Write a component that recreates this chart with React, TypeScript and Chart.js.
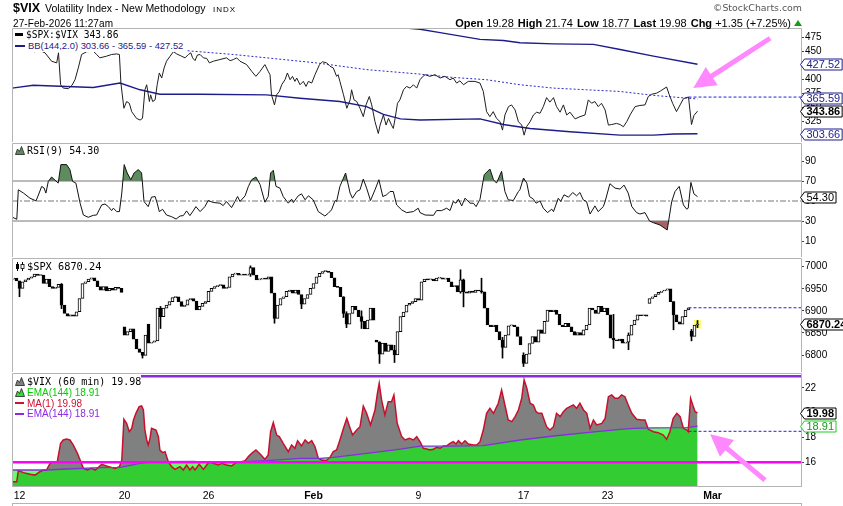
import React, { useEffect, useRef } from 'react';
import { Chart, registerables } from 'chart.js';

Chart.register(...registerables);

// ---------------- data (x = hourly bar index, 7 bars per session) ----------------
type Pt = [number, number];

const xTickIdx = [3, 38, 66, 101, 136, 171, 199, 234];
const xTickLabels = ['12', '20', '26', 'Feb', '9', '17', '23', 'Mar'];

const ratioPts: Pt[] = [
  [0.5, 455], [3, 456], [6, 452], [8, 450], [9.8, 452], [11.5, 448], [13.7, 433], [15.4, 430], [16, 448], [16.7, 391],
  [17.6, 385], [19.3, 384], [20.5, 390], [21.5, 400], [22.6, 421], [23.7, 445], [25.4, 450], [27.6, 451], [28.7, 445], [29.8, 439],
  [32, 442], [33.7, 445], [35.4, 446], [36.3, 445], [36.8, 394], [37.8, 349], [38.7, 361], [39.6, 358], [40.4, 343], [42, 331],
  [43.2, 328], [44, 331], [44.8, 382], [45.4, 391], [46.3, 361], [46.7, 373], [47.4, 361], [48.2, 364], [48.9, 391], [49.6, 412],
  [50.4, 403], [51.2, 421], [52, 433], [53.2, 442], [54.3, 450], [55.4, 446], [57, 442], [58.2, 439], [59.3, 445], [60.1, 448],
  [60.7, 439], [61.5, 434], [62.3, 444], [63.2, 445], [64.3, 439], [65.4, 438], [66.3, 430], [67.6, 433], [69.8, 436], [72, 439],
  [73.2, 434], [74.3, 436], [75.4, 439], [76.5, 433], [78.7, 427], [80.4, 415], [81.8, 406], [83.2, 415], [84.8, 427], [85.9, 415],
  [86.5, 409], [87, 373], [88, 355], [88.7, 373], [89.6, 379], [90.4, 391], [91.5, 400], [92.3, 412], [93.2, 400], [94, 406],
  [94.8, 397], [95.4, 403], [96.5, 391], [97.6, 397], [98.5, 388], [99.3, 397], [100.4, 394], [101.5, 409], [103, 427], [104, 432],
  [105.4, 430], [106.5, 424], [107.6, 421], [108.7, 406], [109.2, 409], [109.8, 397], [111, 373], [112.1, 349], [113.2, 364], [113.7, 382],
  [114.5, 364], [115.4, 361], [116.5, 349], [117.6, 334], [118.5, 355], [119.6, 370], [120.4, 355], [121.5, 325], [122.6, 304], [123.2, 319],
  [124.3, 337], [125.2, 319], [126, 331], [127, 319], [127.6, 313], [128.2, 331], [129, 358], [129.8, 364], [131, 382], [132, 388],
  [133.2, 385], [134.3, 391], [135.4, 385], [136.5, 400], [137.3, 405], [138.2, 409], [139.8, 406], [141.5, 409], [143.2, 403], [144.8, 406],
  [146.5, 400], [147.6, 403], [148.7, 394], [149.8, 398], [151, 391], [152.6, 397], [154.8, 397], [156.5, 394], [157.6, 379], [158.7, 343],
  [159.8, 334], [160.9, 343], [162, 331], [163.2, 325], [164, 310], [164.8, 337], [166, 352], [167, 355], [168.2, 346], [169.3, 325],
  [170.4, 319], [171.2, 301], [172, 316], [173.2, 325], [174.3, 337], [175.4, 342], [176.5, 340], [177.6, 352], [178.7, 368], [179.8, 360],
  [181, 368], [182, 352], [183.2, 342], [184.3, 355], [185.4, 337], [186.5, 342], [188.2, 330], [189.8, 334], [191.5, 337], [192.6, 364],
  [193.7, 358], [194.8, 361], [195.9, 352], [197, 358], [198.2, 346], [199.3, 319], [200.4, 320], [202, 322], [203.2, 320], [204.3, 316],
  [205.4, 325], [206.5, 337], [208.2, 352], [209.8, 354], [211.5, 355], [212.6, 370], [213.7, 374], [215.4, 376], [216.7, 380], [218.7, 387],
  [219.6, 373], [220.7, 358], [222, 343], [223.2, 355], [224.3, 366], [225.2, 368], [226, 369], [227, 320], [227.8, 336], [229, 343.86],
];
const bbUpperPts: Pt[] = [
  [0.5, 560], [40, 545], [80, 520], [110, 505], [130, 493], [136.5, 490], [143.2, 484], [156.5, 472], [164.3, 470], [169.8, 466],
  [181, 464], [194.3, 463], [203.2, 454], [214.3, 442], [229, 427.52],
];
const bbMidPts: Pt[] = [
  [0.5, 472], [30, 462], [58.2, 452], [74.3, 445], [85.4, 439], [102, 430], [118.7, 418], [136.5, 410], [147.6, 404], [158.7, 400],
  [169.8, 391], [181, 385], [192, 382], [203.2, 379], [214.3, 372], [229, 365.59],
];
const bbLowerPts: Pt[] = [
  [0.5, 385], [7.6, 390], [18.7, 388], [27.6, 386], [36.5, 394], [43.2, 382], [49.8, 374], [63.2, 374], [85.4, 373], [96.5, 367],
  [109.8, 361], [118.7, 352], [124.3, 338], [130, 330], [136.5, 328], [156.5, 330], [164.3, 320], [173.2, 313], [186.5, 307], [203.2, 301],
  [214.3, 301], [221, 303], [229, 303.66],
];
const prevCloseIdx = 226;
const ratioPrevClose = 369;
const ratioTicks = [300, 325, 350, 375, 400, 425, 450, 475];
const ratioRange: Pt = [288.8, 492.3];

const rsiPts: Pt[] = [
  [0.5, 34], [2.1, 31.7], [2.6, 61.2], [4.3, 58], [6.5, 52.8], [8.5, 50.1], [9.3, 56], [10.4, 64.6], [11.2, 63], [11.8, 57.9],
  [12.6, 69.6], [13.7, 74], [14.8, 71], [15.9, 67.9], [16.8, 86.4], [18.7, 86.4], [19.8, 81.4], [20.7, 69.6], [21.8, 67.9], [23.2, 47.8],
  [24.3, 36], [25.9, 33.7], [27.6, 35.7], [28.7, 36], [30.4, 46.1], [31.5, 47], [32.6, 44.4], [33.7, 40.4], [34.3, 42.8], [35.4, 39.4],
  [36.3, 39.4], [37.1, 57.9], [37.9, 86.4], [38.9, 78], [40.1, 71.3], [41.2, 78], [42.6, 81.4], [43.7, 78], [44.5, 49.5], [45.9, 44.4],
  [47, 53.8], [48.2, 54.5], [48.9, 47.8], [49.6, 39.4], [50.7, 41.7], [52, 36], [53.7, 34.3], [55.2, 32], [56.5, 35], [57.6, 35.4],
  [58.7, 40.1], [59.8, 35.4], [60.9, 40.1], [61.8, 44.4], [63.2, 39.4], [64.8, 44.4], [65.9, 50.5], [67.6, 48.5], [69.8, 47.8], [70.9, 45.4],
  [72, 49.5], [73.7, 43.4], [74.8, 49.5], [75.7, 54.5], [76.5, 49.5], [78.2, 55.2], [79.3, 64.6], [80.4, 71.3], [81.8, 74], [83.2, 66.3],
  [84.8, 48.8], [85.9, 54.5], [86.7, 78], [87.6, 80.7], [88.5, 64.6], [89.8, 62.9], [90.9, 54.5], [92.6, 47.8], [93.7, 51.8], [94.3, 48.5],
  [95.9, 55.2], [97, 57.2], [98.2, 51.2], [99.3, 55.2], [100.9, 51.2], [102.6, 39.4], [104.8, 35], [105.9, 37.7], [107, 41.1], [108.2, 50.5],
  [108.7, 49.5], [109.8, 64.6], [111.7, 78], [113.2, 57.9], [114, 52.8], [115.4, 59.5], [116.5, 61.2], [117.6, 72], [118.7, 62.9], [120, 50.5],
  [121.5, 61.2], [122.8, 71.3], [124.1, 54.5], [125.4, 56.2], [126.5, 59.5], [127.6, 59.5], [128.7, 46.1], [130.4, 41.1], [132, 38.4], [134.3, 39.4],
  [135.9, 42.8], [136.5, 38.4], [138.2, 36], [141, 35.7], [142, 40.4], [143.7, 40.4], [145.4, 42.8], [146.5, 40.4], [147.6, 49.5], [148.5, 47.8],
  [149.3, 51.8], [150.4, 45.1], [151.5, 52.8], [153.2, 47.8], [154.3, 47.8], [155.2, 44.4], [156.5, 51.8], [157.9, 76.3], [159.8, 82], [161, 71.3],
  [162, 67.9], [163.7, 79.7], [164.8, 59.5], [165.9, 51.2], [167.6, 50.5], [169.3, 59.5], [169.8, 61.2], [171, 73], [172.1, 67.9], [173, 54.5],
  [174.3, 51.8], [175.2, 47.8], [176.5, 50.1], [177.6, 42.8], [179, 38.4], [180.4, 41.8], [181, 39.4], [182.6, 52.8], [183.4, 49.5], [184.5, 56.2],
  [186, 53.8], [187.4, 58.5], [188.7, 55.2], [189.8, 58.5], [190.9, 51.2], [192, 49.5], [193.2, 37], [194.8, 45.1], [195.9, 39.4], [197.6, 44.4],
  [198.2, 49.5], [199.8, 67.3], [201.5, 62.9], [203.2, 61.9], [204.5, 65.9], [205.9, 57.9], [207.1, 44.4], [208.7, 38.4], [209.8, 37], [211.5, 38.4],
  [213, 30], [214.3, 28.3], [216.5, 26], [218.9, 21], [220.4, 49.5], [221.5, 59.5], [222.9, 64.6], [224.3, 46.1], [225.4, 41.8], [225.9, 42.8],
  [226.8, 68.6], [227.8, 57.2], [229, 54.3],
];
const rsiLevels = [70, 50, 30];
const rsiTicks = [10, 30, 50, 70, 90];
const rsiRange: Pt = [-6, 108];

const spxClose = [
  6972, 6974, 6968, 6951, 6966, 6970, 6974, 6977, 6983, 6980,
  6981, 6962, 6972, 6955, 6951, 6953, 6960, 6913, 6894, 6888,
  6891, 6888, 6898, 6928, 6962, 6966, 6972, 6975, 6968, 6955,
  6947, 6955, 6945, 6951, 6947, 6953, 6951, 6942, 6845, 6853,
  6859, 6836, 6814, 6806, 6799, 6845, 6827, 6829, 6832, 6906,
  6887, 6906, 6913, 6921, 6930, 6932, 6921, 6910, 6913, 6925,
  6928, 6922, 6902, 6910, 6917, 6921, 6944, 6951, 6955, 6957,
  6959, 6951, 6953, 6977, 6983, 6985, 6981, 6983, 6981, 6983,
  6998, 6981, 6970, 6972, 6974, 6972, 6977, 6940, 6883, 6913,
  6928, 6932, 6944, 6947, 6940, 6947, 6937, 6915, 6928, 6937,
  6951, 6962, 6977, 6985, 6989, 6990, 6987, 6975, 6955, 6953,
  6932, 6894, 6870, 6894, 6910, 6902, 6887, 6876, 6859, 6879,
  6906, 6879, 6829, 6802, 6827, 6808, 6823, 6811, 6800, 6853,
  6887, 6897, 6913, 6917, 6921, 6928, 6924, 6966, 6972, 6970,
  6972, 6968, 6974, 6975, 6972, 6974, 6966, 6955, 6957, 6943,
  6970, 6943, 6940, 6945, 6942, 6947, 6945, 6943, 6906, 6868,
  6864, 6868, 6853, 6834, 6817, 6845, 6866, 6868, 6864, 6842,
  6823, 6781, 6802, 6826, 6842, 6829, 6857, 6849, 6876, 6902,
  6898, 6902, 6892, 6868, 6864, 6872, 6864, 6853, 6845, 6851,
  6845, 6857, 6868, 6906, 6902, 6894, 6910, 6898, 6906, 6891,
  6838, 6834, 6832, 6836, 6827, 6829, 6845, 6868, 6879, 6891,
  6889, 6891, 6888, 6928, 6932, 6937, 6942, 6945, 6947, 6950,
  6921, 6891, 6875, 6870, 6887, 6902, 6907, 6842, 6868, 6870.24,
];
// bars whose open is not the previous bar's close (session gaps): [bar, open]
const spxGapOpens: Pt[] = [[38, 6864], [46, 6870], [122, 6834], [171, 6800], [213, 6917], [227, 6854]];
// visible wicks: [bar, high, low]
const spxWicks: number[][] = [
  [3, 6958, 6932], [17, 6962, 6905], [44, 6806, 6793], [50, 6910, 6860], [80, 7002, 6978], [88, 6940, 6872],
  [97, 6930, 6905], [111, 6932, 6885], [112, 6898, 6862], [117, 6900, 6860], [123, 6830, 6781], [128, 6822, 6783],
  [150, 6993, 6940], [151, 6972, 6909], [157, 6974, 6940], [164, 6840, 6793], [171, 6805, 6774], [201, 6892, 6815],
  [206, 6850, 6812], [221, 6921, 6857], [227, 6858, 6832], [229, 6878, 6862],
];
const spxLastBar = 229;
const spxLastBand: Pt = [6861, 6879];
const spxPrevClose = 6907;
const spxTicks = [6800, 6850, 6900, 6950, 7000];
const spxRange: Pt = [6761.5, 7019.7];

const vixPts: Pt[] = [
  [0.5, 14.44], [2.1, 14.44], [2.6, 15.33], [4.3, 15.17], [6.5, 15.03], [8.2, 14.97], [9.8, 15.24], [10.9, 15.38], [12, 15.38], [13.2, 15.92],
  [14.3, 16.05], [15.6, 16.05], [16.7, 17.53], [17.6, 17.8], [18.7, 17.88], [19.8, 17.8], [20.9, 17.4], [22.3, 16.72], [23.2, 16.19], [24.3, 15.51],
  [25.6, 15.38], [27, 15.51], [28.2, 15.38], [29.3, 15.59], [30.4, 15.84], [32, 15.7], [33.7, 15.59], [34.8, 15.51], [36.3, 15.65], [37.1, 16.19],
  [37.8, 19.47], [38.7, 19.14], [39.6, 18.47], [40.4, 18.74], [41, 19.41], [41.8, 19.95], [42.9, 20.49], [43.7, 20.54], [44.3, 20.22], [44.8, 18.6],
  [45.4, 17.8], [45.9, 17.4], [46.5, 17.93], [47, 18.74], [47.8, 18.66], [48.5, 18.6], [49.3, 18.07], [49.8, 16.99], [50.7, 16.78], [51.5, 16.86],
  [52.6, 16.05], [53.7, 15.65], [54.8, 15.43], [56.5, 15.65], [57.6, 15.38], [58.7, 15.78], [59.8, 15.38], [60.7, 15.65], [61.5, 15.38], [62.9, 15.84],
  [64.3, 15.43], [65.4, 15.78], [66.3, 16.05], [67.6, 15.92], [69.3, 15.78], [70.4, 15.92], [72, 15.78], [73.7, 15.7], [74.8, 15.92], [75.9, 16.05],
  [77, 16.05], [78.2, 16.13], [79.3, 16.46], [80.4, 16.72], [81.8, 16.99], [83.2, 16.67], [84.8, 16.24], [85.9, 16.59], [86.7, 18.47], [87.6, 19.2],
  [88.7, 18.2], [89.6, 18.07], [90.9, 17.53], [92.6, 16.86], [93.7, 17.4], [94.8, 17.13], [95.7, 17.74], [97, 17.32], [98.2, 17.8], [99.3, 17.53],
  [100.4, 17.74], [101.5, 17.26], [102.6, 16.32], [103.7, 16.19], [105.2, 16.13], [106.5, 16.4], [107.6, 16.86], [108.7, 16.99], [109.8, 17.8], [111, 18.74],
  [112.1, 19.54], [113.2, 18.74], [114, 18.2], [115.4, 18.6], [116.5, 18.87], [117.6, 20.54], [118.7, 19.95], [120, 19.01], [121.5, 20.22], [122.3, 21.56],
  [122.9, 22.37], [123.7, 21.02], [124.8, 19.82], [125.9, 20.89], [127, 20.89], [127.8, 21.43], [128.9, 19.14], [130.4, 18.07], [131.5, 17.8], [132.9, 17.93],
  [134.3, 17.8], [135.4, 18.07], [136.5, 17.66], [137.6, 17.13], [138.7, 17.07], [139.8, 16.99], [141, 17.05], [142, 17.21], [143.2, 17.13], [144.3, 17.32],
  [145.4, 17.32], [146.5, 17.53], [147.6, 17.66], [148.5, 17.48], [149.3, 17.74], [150.4, 17.48], [151.5, 17.74], [152.6, 17.48], [154.3, 17.4], [155.4, 17.4],
  [156.5, 17.66], [157.6, 18.6], [158.7, 19.95], [159.8, 20.35], [161, 19.95], [162.6, 20.76], [163.7, 21.83], [164.8, 20.62], [165.9, 19.41], [167.1, 19.28],
  [168.2, 19.68], [169.3, 20.22], [170.4, 21.16], [171.2, 22.64], [172.1, 21.97], [173.2, 20.76], [174.3, 20.62], [175.2, 20.08], [176, 19.95], [177.1, 19.95],
  [178.7, 18.87], [179.8, 18.6], [181, 18.87], [182, 19.95], [183.2, 19.68], [184.3, 20.08], [185.4, 20.35], [186.5, 20.49], [187.6, 20.62], [188.7, 20.35],
  [189.8, 20.76], [191, 20.22], [192.1, 19.95], [193.2, 18.74], [194.3, 19.41], [195.4, 19.01], [197.1, 19.14], [198.2, 19.54], [199.3, 21.29], [200.4, 21.43],
  [201.5, 21.16], [202.6, 21.16], [203.7, 21.43], [204.8, 21.29], [205.9, 20.62], [207.1, 19.95], [208.7, 19.47], [210.4, 19.41], [211.5, 19.41], [212.6, 18.66],
  [214.3, 18.47], [215.9, 18.39], [217.6, 18.2], [218.7, 17.85], [219.8, 18.47], [220.9, 19.54], [222.1, 19.95], [223.2, 19.68], [224.3, 18.74], [225.4, 18.6],
  [225.9, 18.47], [226.7, 21.16], [227.6, 20.49], [228.2, 20.08], [229, 19.98],
];
const emaPts: Pt[] = [
  [0.5, 15.38], [12, 15.38], [18.7, 15.46], [29.8, 15.57], [36.5, 15.6], [38.7, 15.7], [43.2, 15.92], [47.6, 16.05], [60.9, 16.08], [65.4, 16.02],
  [74.3, 16.02], [85.4, 16.13], [96.5, 16.32], [103.2, 16.32], [107.6, 16.4], [118.7, 16.72], [130, 17.07], [136.5, 17.3], [147.6, 17.3], [157.6, 17.35],
  [169.8, 17.8], [181, 18.12], [192, 18.39], [203.2, 18.66], [207.6, 18.74], [214.3, 18.78], [225.4, 18.8], [229, 18.91],
];
const vixLevels = [16, 22.93];
const vixPrevClose = 18.5;
const vixTicks = [16, 18, 20, 22];
const vixRange: Pt = [14.01, 23.2];

const quoteLabels = ['Open', 'High', 'Low', 'Last', 'Chg'];
const quoteValues = ['19.28', '21.74', '18.77', '19.98', '+1.35 (+7.25%)'];

// annotation arrows in data units: [tailBar, tailValue, tipBar, tipValue]
const ratioArrow = [253.2, 474, 227.6, 385];
const vixArrow = [251.5, 14.57, 233.2, 18.26];

// ---------------- layout & style ----------------
const W = 843;
const H = 506;
const PLOT_L = 12;
const AXIS_W = 41;
const X_MIN = 0.5;
const X_MAX = 263.83;
const P1: Pt = [28, 142];
const P2: Pt = [143, 257];
const P3: Pt = [258, 372];
const P4: Pt = [373, 487];
const FONT = '"Liberation Sans", Arial, sans-serif';
const MONO = '"DejaVu Sans Mono", monospace';
const NAVY = '#1c1c8a';
const FRAME = '#b4b4b4';
const ARROW = '#ff88ff';

const toXY = (pts: Pt[]) => pts.map(([x, y]) => ({ x, y }));
const flat = (from: number, y: number): Pt[] => [[from, y], [X_MAX, y]];

function lineDs(pts: Pt[], color: string, width: number, order: number, extra: any = {}) {
  return {
    type: 'line', data: toXY(pts), borderColor: color, borderWidth: width,
    pointRadius: 0, pointHoverRadius: 0, tension: 0, fill: false, order, ...extra,
  };
}

function baseOptions(panel: Pt, range: Pt, yTicks: number[], showX: boolean): any {
  const labelOf = (v: any) => {
    const k = xTickIdx.indexOf(Number(v));
    return k >= 0 ? xTickLabels[k] : '';
  };
  return {
    animation: false,
    responsive: false,
    maintainAspectRatio: false,
    events: [],
    layout: { padding: { left: PLOT_L, right: 0, top: panel[0], bottom: showX ? 0 : H - panel[1] } },
    plugins: { legend: { display: false }, tooltip: { enabled: false } },
    scales: {
      x: {
        type: 'linear', min: X_MIN, max: X_MAX, offset: false, display: showX,
        grid: { display: false, drawTicks: false }, border: { display: false },
        afterBuildTicks: (s: any) => { s.ticks = xTickIdx.map((v) => ({ value: v })); },
        afterFit: (s: any) => { s.height = showX ? H - panel[1] : 0; },
        ticks: {
          autoSkip: false, maxRotation: 0, minRotation: 0, padding: 3, color: '#000',
          callback: (v: any) => labelOf(v),
          font: (ctx: any) => ({ family: FONT, size: 10.5, weight: /^\d+$/.test(labelOf(ctx.tick ? ctx.tick.value : '')) ? 'normal' : 'bold' }),
        },
      },
      y: {
        type: 'linear', position: 'right', min: range[0], max: range[1], beginAtZero: false,
        afterBuildTicks: (s: any) => { s.ticks = yTicks.map((v) => ({ value: v })); },
        afterFit: (s: any) => { s.width = AXIS_W; },
        grid: { drawOnChartArea: false, drawTicks: true, tickLength: 2, color: '#444' },
        border: { display: false },
        ticks: { padding: 1, color: '#000', font: { family: FONT, size: 10 }, callback: (v: any) => String(v) },
      },
    },
  };
}

function framePlugin(bottom: boolean) {
  return {
    id: 'frame',
    afterDatasetsDraw(chart: any) {
      const { ctx, chartArea: a } = chart;
      ctx.save();
      ctx.strokeStyle = FRAME;
      ctx.lineWidth = 1;
      ctx.setLineDash([]);
      ctx.beginPath();
      ctx.moveTo(a.left + 0.5, a.bottom);
      ctx.lineTo(a.left + 0.5, a.top + 0.5);
      ctx.lineTo(a.right - 0.5, a.top + 0.5);
      ctx.lineTo(a.right - 0.5, a.bottom);
      if (bottom) {
        ctx.moveTo(a.left, a.bottom - 0.5);
        ctx.lineTo(a.right, a.bottom - 0.5);
        ctx.moveTo(a.left, H - 2.5);
        ctx.lineTo(a.right, H - 2.5);
        ctx.moveTo(a.left + 0.5, H - 3);
        ctx.lineTo(a.left + 0.5, H);
        ctx.moveTo(a.right - 0.5, H - 3);
        ctx.lineTo(a.right - 0.5, H);
      }
      ctx.stroke();
      ctx.restore();
    },
  };
}

type Tag = { value: number; text: string; color: string; textColor: string; bold?: boolean };
function tagPlugin(tags: Tag[]) {
  return {
    id: 'tags',
    afterDraw(chart: any) {
      const { ctx, chartArea: a, scales } = chart;
      const items = tags.map((t) => ({ ...t, py: scales.y.getPixelForValue(t.value) })).sort((p, q) => p.py - q.py);
      for (let k = items.length - 2; k >= 0; k--) {
        if (items[k].py > items[k + 1].py - 13) items[k].py = items[k + 1].py - 13;
      }
      ctx.save();
      for (const t of items) {
        ctx.font = `${t.bold ? 'bold ' : ''}11px ${FONT}`;
        const tw = ctx.measureText(t.text).width;
        const yy = Math.round(t.py) + 0.5;
        const x0 = a.right - 1.5;
        const bx = a.right + 2.5;
        const bw = tw + 4;
        const hh = 5.5;
        ctx.beginPath();
        ctx.moveTo(x0, yy);
        ctx.lineTo(bx, yy - hh);
        ctx.lineTo(bx + bw, yy - hh);
        ctx.lineTo(bx + bw, yy + hh);
        ctx.lineTo(bx, yy + hh);
        ctx.closePath();
        ctx.fillStyle = '#fff';
        ctx.fill();
        ctx.strokeStyle = t.color;
        ctx.lineWidth = 1;
        ctx.stroke();
        ctx.fillStyle = t.textColor;
        ctx.textBaseline = 'middle';
        ctx.textAlign = 'left';
        ctx.fillText(t.text, bx + 2, yy + 0.5);
      }
      ctx.restore();
    },
  };
}

function arrowPlugin(arrows: number[][]) {
  return {
    id: 'arrows',
    afterDraw(chart: any) {
      const { ctx, scales } = chart;
      ctx.save();
      ctx.fillStyle = ARROW;
      ctx.strokeStyle = ARROW;
      for (const [ti, tv, hi, hv] of arrows) {
        const x0 = scales.x.getPixelForValue(ti);
        const y0 = scales.y.getPixelForValue(tv);
        const x1 = scales.x.getPixelForValue(hi);
        const y1 = scales.y.getPixelForValue(hv);
        const len = Math.hypot(x1 - x0, y1 - y0);
        const ux = (x1 - x0) / len;
        const uy = (y1 - y0) / len;
        const head = 22;
        const half = 11;
        const bx = x1 - ux * head;
        const by = y1 - uy * head;
        ctx.lineWidth = 5;
        ctx.lineCap = 'butt';
        ctx.beginPath();
        ctx.moveTo(x0, y0);
        ctx.lineTo(bx + ux * 2, by + uy * 2);
        ctx.stroke();
        ctx.beginPath();
        ctx.moveTo(x1, y1);
        ctx.lineTo(bx - uy * half, by + ux * half);
        ctx.lineTo(bx + uy * half, by - ux * half);
        ctx.closePath();
        ctx.fill();
      }
      ctx.restore();
    },
  };
}

// ---------------- chart configs ----------------
function ratioConfig(): any {
  return {
    type: 'line',
    data: {
      datasets: [
        lineDs(ratioPts, '#1e1e1e', 1, 0),
        lineDs(flat(prevCloseIdx, ratioPrevClose), '#2323e0', 1, 1, { borderDash: [3, 2] }),
        lineDs(bbMidPts, '#2a2ac8', 1, 2, { borderDash: [2, 2] }),
        lineDs(bbUpperPts, NAVY, 1.4, 3),
        lineDs(bbLowerPts, NAVY, 1.4, 4),
      ],
    },
    options: baseOptions(P1, ratioRange, ratioTicks, false),
    plugins: [
      framePlugin(false),
      tagPlugin([
        { value: 427.52, text: '427.52', color: NAVY, textColor: NAVY },
        { value: 365.59, text: '365.59', color: NAVY, textColor: NAVY },
        { value: 343.86, text: '343.86', color: '#000', textColor: '#000', bold: true },
        { value: 303.66, text: '303.66', color: NAVY, textColor: NAVY },
      ]),
      arrowPlugin([ratioArrow]),
    ],
  };
}

function rsiConfig(): any {
  const levelDash = [[], [6, 2, 2, 2], []];
  return {
    type: 'line',
    data: {
      datasets: [
        lineDs(rsiPts, '#111', 1, 0),
        ...rsiLevels.map((lv, k) => lineDs(flat(X_MIN, lv), '#777', 1, 2, { borderDash: levelDash[k] })),
        lineDs(rsiPts, 'rgba(0,0,0,0)', 0, 8, { fill: { target: { value: 70 }, above: 'rgb(95,140,95)', below: 'rgba(0,0,0,0)' } }),
        lineDs(rsiPts, 'rgba(0,0,0,0)', 0, 9, { fill: { target: { value: 30 }, above: 'rgba(0,0,0,0)', below: 'rgb(165,100,100)' } }),
      ],
    },
    options: baseOptions(P2, rsiRange, rsiTicks, false),
    plugins: [
      framePlugin(false),
      tagPlugin([{ value: 54.3, text: '54.30', color: '#000', textColor: '#000' }]),
    ],
  };
}

function spxConfig(): any {
  const opens = spxClose.map((c, i) => (i === 0 ? c : spxClose[i - 1]));
  spxGapOpens.forEach(([i, o]) => { opens[i] = o; });
  return {
    type: 'bar',
    data: {
      datasets: [
        lineDs(flat(prevCloseIdx, spxPrevClose), '#2323e0', 1, 0, { borderDash: [3, 2] }),
        {
          type: 'bar', order: 1, grouped: false, barThickness: 3, minBarLength: 1,
          data: spxClose.map((c, i) => ({ x: i, y: [opens[i], c] })),
          backgroundColor: spxClose.map((c, i) => (c >= opens[i] ? '#fff' : '#000')),
          borderColor: '#000', borderWidth: 1, borderSkipped: false,
        },
        {
          type: 'bar', order: 2, grouped: false, barThickness: 1,
          data: spxWicks.map(([i, hi, lo]) => ({ x: i, y: [lo, hi] })),
          backgroundColor: '#000', borderWidth: 0,
        },
        {
          type: 'bar', order: 3, grouped: false, barThickness: 6,
          data: [{ x: spxLastBar, y: spxLastBand }],
          backgroundColor: '#ffff55', borderWidth: 0,
        },
      ],
    },
    options: baseOptions(P3, spxRange, spxTicks, false),
    plugins: [
      framePlugin(false),
      tagPlugin([{ value: 6870.24, text: '6870.24', color: '#000', textColor: '#000', bold: true }]),
    ],
  };
}

function vixConfig(): any {
  const levelColors = ['#ff00ff', '#8a2be2'];
  return {
    type: 'line',
    data: {
      datasets: [
        ...vixLevels.map((lv, k) => lineDs(flat(X_MIN, lv), levelColors[k], 2.5, 0)),
        lineDs(emaPts, '#8a2be2', 1.3, 1),
        lineDs(flat(prevCloseIdx, vixPrevClose), '#2323e0', 1, 1, { borderDash: [3, 2] }),
        lineDs(vixPts, '#c8102e', 1.5, 2),
        lineDs(emaPts, 'rgba(0,0,0,0)', 0, 3, { fill: 'start', backgroundColor: 'rgba(0,255,0,0.6)' }),
        lineDs(vixPts, 'rgba(0,0,0,0)', 0, 4, { fill: 'start', backgroundColor: 'rgb(128,128,128)' }),
      ],
    },
    options: baseOptions(P4, vixRange, vixTicks, true),
    plugins: [
      framePlugin(true),
      tagPlugin([
        { value: 19.98, text: '19.98', color: '#000', textColor: '#000', bold: true },
        { value: 18.91, text: '18.91', color: '#22cc22', textColor: '#119911' },
      ]),
      arrowPlugin([vixArrow]),
    ],
  };
}

// ---------------- components ----------------
function ChartCanvas({ make }: { make: () => any }) {
  const ref = useRef<HTMLCanvasElement | null>(null);
  useEffect(() => {
    if (!ref.current) return undefined;
    const chart = new Chart(ref.current, make());
    return () => chart.destroy();
  }, [make]);
  return <canvas ref={ref} width={W} height={H} style={{ position: 'absolute', left: 0, top: 0, width: W, height: H }} />;
}

function Txt({ x, cy, size, family = FONT, color = '#000', bold = false, bg, right, children, spacing }: any) {
  const lh = Math.round(size * 1.25);
  const style: any = {
    position: 'absolute', top: cy - lh / 2, height: lh, lineHeight: `${lh}px`, fontSize: size, fontFamily: family,
    color, fontWeight: bold ? 'bold' : 'normal', whiteSpace: 'nowrap', background: bg, letterSpacing: spacing,
    display: 'flex', alignItems: 'center',
  };
  if (right !== undefined) style.right = right; else style.left = x;
  return <div style={style}>{children}</div>;
}

const LineIcon = ({ color, w = 8, h = 3 }: any) => (
  <span style={{ display: 'inline-block', width: w, height: h, background: color, marginRight: 3 }} />
);
const Mountain = ({ color }: any) => (
  <svg width="10" height="9" style={{ marginRight: 2 }}>
    <polygon points="0.5,8.5 2.5,3 4.5,5.5 6.5,0.5 9.5,8.5" fill={color} stroke="#222" strokeWidth="0.8" />
  </svg>
);
const CandleIcon = () => (
  <svg width="10" height="9" style={{ marginRight: 2 }}>
    <line x1="2.5" y1="0" x2="2.5" y2="9" stroke="#000" />
    <rect x="1" y="2" width="3" height="5" fill="#000" />
    <line x1="7.5" y1="0" x2="7.5" y2="9" stroke="#000" />
    <rect x="6" y="2.5" width="3" height="4" fill="#fff" stroke="#000" strokeWidth="0.8" />
  </svg>
);

export default function App() {
  return (
    <div style={{ position: 'fixed', left: 0, top: 0, width: W, height: H, background: '#fff', overflow: 'hidden', fontFamily: FONT }}>
      <ChartCanvas make={vixConfig} />
      <ChartCanvas make={spxConfig} />
      <ChartCanvas make={rsiConfig} />
      <ChartCanvas make={ratioConfig} />

      {/* header */}
      <Txt x={13} cy={8.4} size={12.5} bold>$VIX</Txt>
      <Txt x={45} cy={8.9} size={10.5}>Volatility Index - New Methodology</Txt>
      <Txt x={213} cy={9.6} size={8} spacing="1px">INDX</Txt>
      <Txt x={13} cy={23.7} size={10} spacing="0.1px">27-Feb-2026 11:27am</Txt>
      <Txt right={41} cy={8.3} size={9.4} family='"DejaVu Sans", sans-serif' color="#555">©StockCharts.com</Txt>
      <Txt right={41} cy={22.5} size={11}>
        {quoteLabels.map((l, k) => (
          <span key={l} style={{ marginRight: 4 }}>
            <b>{l}</b> {quoteValues[k]}
          </span>
        ))}
        <svg width="8" height="6" style={{ marginLeft: -1 }}><polygon points="0,6 4,0 8,6" fill="#1a9a1a" /></svg>
      </Txt>

      {/* ratio panel legend */}
      <Txt x={13} cy={34.5} size={9.6} family={MONO} bg="#fff">
        <span style={{ width: 2 }} /><LineIcon color="#000" w={8} h={3} /> $SPX:$VIX 343.86&nbsp;
      </Txt>
      <Txt x={13} cy={45.5} size={9.4} color={NAVY} bg="#fff">
        <span style={{ width: 2 }} /><LineIcon color={NAVY} w={10} h={2} />BB(144,2.0) 303.66 - 365.59 - 427.52&nbsp;
      </Txt>

      {/* RSI legend */}
      <Txt x={15} cy={150.3} size={10} family={MONO}>
        <Mountain color="rgb(95,140,95)" />RSI(9) 54.30
      </Txt>

      {/* SPX legend */}
      <Txt x={15} cy={266} size={10.3} family={MONO}>
        <CandleIcon />$SPX 6870.24
      </Txt>

      {/* VIX legend */}
      <Txt x={13} cy={381} size={10} family={MONO} bg="#fff">
        <span style={{ width: 2 }} /><Mountain color="#808080" />$VIX (60 min) 19.98
      </Txt>
      <Txt x={15} cy={392} size={10} color="#00cc00">
        <Mountain color="#33dd33" />EMA(144) 18.91
      </Txt>
      <Txt x={15} cy={403} size={10} color="#cc1133">
        <LineIcon color="#cc1133" w={9} h={2} />MA(1) 19.98
      </Txt>
      <Txt x={15} cy={413.5} size={10} color="#8a2be2">
        <LineIcon color="#8a2be2" w={9} h={2} />EMA(144) 18.91
      </Txt>
    </div>
  );
}
